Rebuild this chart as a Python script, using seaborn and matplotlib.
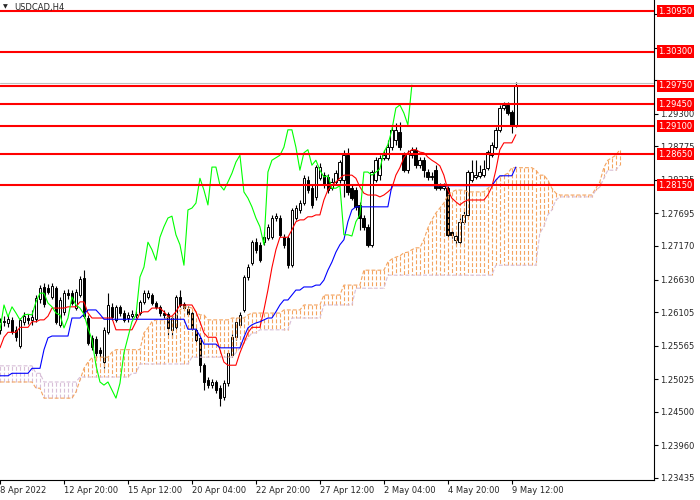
import numpy as np
import pandas as pd
import matplotlib
matplotlib.use("Agg")
import matplotlib.pyplot as plt
import seaborn as sns

sns.set_style("white")
plt.rcParams['font.family'] = ['DejaVu Sans']

symbol = "USDCAD,H4"

# H4 candles, one per bar
opens = [
    1.2582, 1.2595, 1.2593, 1.2598, 1.2582, 1.2556, 1.2595, 1.2601, 1.2598, 1.2599,
    1.2632, 1.2651, 1.2649, 1.2635, 1.2649, 1.2590, 1.2611, 1.2641, 1.2641, 1.2617,
    1.2638, 1.2665, 1.2601, 1.2569, 1.2567, 1.2550, 1.2530, 1.2578, 1.2619, 1.2598,
    1.2619, 1.2609, 1.2601, 1.2604, 1.2607, 1.2609, 1.2627, 1.2635, 1.2638, 1.2625,
    1.2619, 1.2609, 1.2607, 1.2582, 1.2586, 1.2635, 1.2624, 1.2616, 1.2609, 1.2582,
    1.2569, 1.2525, 1.2501, 1.2493, 1.2498, 1.2488, 1.2474, 1.2496, 1.2542, 1.2570,
    1.2590, 1.2614, 1.2667, 1.2690, 1.2723, 1.2719, 1.2723, 1.2730, 1.2731, 1.2762,
    1.2762, 1.2731, 1.2730, 1.2686, 1.2762, 1.2775, 1.2786, 1.2823, 1.2810, 1.2796,
    1.2826, 1.2831, 1.2828, 1.2810, 1.2820, 1.2823, 1.2823, 1.2863, 1.2810, 1.2807,
    1.2783, 1.2762, 1.2748, 1.2719, 1.2823, 1.2831, 1.2859, 1.2859, 1.2876, 1.2888,
    1.2900, 1.2863, 1.2839, 1.2863, 1.2872, 1.2847, 1.2855, 1.2836, 1.2828, 1.2839,
    1.2814, 1.2810, 1.2810, 1.2739, 1.2727, 1.2723, 1.2756, 1.2767, 1.2823, 1.2828,
    1.2830, 1.2831, 1.2843, 1.2863, 1.2876, 1.2904, 1.2939, 1.2944, 1.2933, 1.2912,
]
highs = [
    1.2601, 1.2604, 1.2606, 1.2603, 1.2588, 1.2601, 1.2611, 1.2607, 1.2614, 1.2638,
    1.2654, 1.2657, 1.2656, 1.2657, 1.2653, 1.2635, 1.2646, 1.2648, 1.2646, 1.2648,
    1.2669, 1.2678, 1.2606, 1.2574, 1.2572, 1.2554, 1.2586, 1.2641, 1.2625, 1.2622,
    1.2622, 1.2614, 1.2611, 1.2614, 1.2612, 1.2630, 1.2646, 1.2646, 1.2641, 1.2628,
    1.2622, 1.2614, 1.2611, 1.2604, 1.2638, 1.2646, 1.2627, 1.2620, 1.2612, 1.2585,
    1.2572, 1.2529, 1.2506, 1.2503, 1.2501, 1.2493, 1.2501, 1.2550, 1.2575, 1.2601,
    1.2611, 1.2670, 1.2688, 1.2727, 1.2730, 1.2723, 1.2739, 1.2752, 1.2767, 1.2770,
    1.2767, 1.2736, 1.2733, 1.2778, 1.2783, 1.2791, 1.2831, 1.2830, 1.2815, 1.2847,
    1.2851, 1.2836, 1.2833, 1.2826, 1.2839, 1.2855, 1.2872, 1.2875, 1.2815, 1.2812,
    1.2788, 1.2767, 1.2752, 1.2839, 1.2860, 1.2863, 1.2872, 1.2888, 1.2912, 1.2915,
    1.2917, 1.2868, 1.2872, 1.2876, 1.2876, 1.2860, 1.2860, 1.2841, 1.2836, 1.2847,
    1.2818, 1.2818, 1.2814, 1.2746, 1.2739, 1.2762, 1.2775, 1.2839, 1.2855, 1.2855,
    1.2847, 1.2855, 1.2872, 1.2884, 1.2909, 1.2944, 1.2949, 1.2949, 1.2936, 1.2981,
]
lows = [
    1.2575, 1.2588, 1.2586, 1.2575, 1.2564, 1.2553, 1.2590, 1.2591, 1.2590, 1.2595,
    1.2625, 1.2619, 1.2640, 1.2632, 1.2591, 1.2586, 1.2606, 1.2632, 1.2622, 1.2614,
    1.2635, 1.2601, 1.2558, 1.2550, 1.2540, 1.2538, 1.2520, 1.2575, 1.2598, 1.2595,
    1.2604, 1.2595, 1.2595, 1.2601, 1.2601, 1.2606, 1.2624, 1.2632, 1.2622, 1.2616,
    1.2604, 1.2601, 1.2574, 1.2569, 1.2583, 1.2619, 1.2614, 1.2604, 1.2582, 1.2562,
    1.2514, 1.2485, 1.2488, 1.2488, 1.2480, 1.2459, 1.2469, 1.2492, 1.2538, 1.2566,
    1.2586, 1.2611, 1.2662, 1.2686, 1.2706, 1.2691, 1.2719, 1.2727, 1.2728, 1.2757,
    1.2731, 1.2714, 1.2682, 1.2683, 1.2759, 1.2770, 1.2783, 1.2802, 1.2778, 1.2791,
    1.2823, 1.2810, 1.2802, 1.2807, 1.2815, 1.2818, 1.2796, 1.2799, 1.2791, 1.2775,
    1.2743, 1.2743, 1.2715, 1.2715, 1.2820, 1.2823, 1.2855, 1.2855, 1.2872, 1.2880,
    1.2872, 1.2836, 1.2834, 1.2859, 1.2843, 1.2843, 1.2828, 1.2823, 1.2823, 1.2807,
    1.2807, 1.2807, 1.2731, 1.2730, 1.2719, 1.2720, 1.2752, 1.2764, 1.2820, 1.2825,
    1.2826, 1.2828, 1.2839, 1.2860, 1.2873, 1.2900, 1.2936, 1.2928, 1.2899, 1.2909,
]
closes = [
    1.2595, 1.2596, 1.2599, 1.2578, 1.2570, 1.2598, 1.2604, 1.2598, 1.2603, 1.2633,
    1.2649, 1.2624, 1.2643, 1.2653, 1.2595, 1.2630, 1.2641, 1.2638, 1.2625, 1.2643,
    1.2664, 1.2604, 1.2561, 1.2554, 1.2545, 1.2545, 1.2582, 1.2622, 1.2603, 1.2619,
    1.2609, 1.2598, 1.2606, 1.2607, 1.2606, 1.2627, 1.2641, 1.2641, 1.2625, 1.2619,
    1.2609, 1.2606, 1.2585, 1.2601, 1.2635, 1.2622, 1.2617, 1.2607, 1.2585, 1.2566,
    1.2525, 1.2498, 1.2493, 1.2498, 1.2485, 1.2472, 1.2496, 1.2545, 1.2570, 1.2595,
    1.2606, 1.2667, 1.2683, 1.2723, 1.2711, 1.2694, 1.2731, 1.2748, 1.2762, 1.2765,
    1.2735, 1.2719, 1.2686, 1.2775, 1.2778, 1.2786, 1.2826, 1.2807, 1.2783, 1.2844,
    1.2844, 1.2815, 1.2807, 1.2820, 1.2834, 1.2852, 1.2863, 1.2804, 1.2794, 1.2780,
    1.2762, 1.2748, 1.2719, 1.2836, 1.2855, 1.2859, 1.2863, 1.2876, 1.2904, 1.2904,
    1.2876, 1.2839, 1.2867, 1.2872, 1.2847, 1.2855, 1.2839, 1.2828, 1.2830, 1.2810,
    1.2810, 1.2814, 1.2735, 1.2735, 1.2733, 1.2756, 1.2767, 1.2836, 1.2836, 1.2831,
    1.2836, 1.2841, 1.2868, 1.2880, 1.2904, 1.2939, 1.2944, 1.2931, 1.2912, 1.2976,
]

# Ichimoku lines as drawn on the chart
tenkan = [
    1.2553, 1.2570, 1.2578, 1.2578, 1.2578, 1.2586, 1.2586, 1.2586, 1.2595, 1.2595,
    1.2598, 1.2598, 1.2604, 1.2617, 1.2617, 1.2617, 1.2617, 1.2619, 1.2619, 1.2619,
    1.2627, 1.2627, 1.2609, 1.2601, 1.2601, 1.2601, 1.2601, 1.2601, 1.2601, 1.2582,
    1.2582, 1.2582, 1.2582, 1.2582, 1.2595, 1.2609, 1.2611, 1.2611, 1.2617, 1.2617,
    1.2617, 1.2611, 1.2604, 1.2604, 1.2611, 1.2622, 1.2622, 1.2622, 1.2622, 1.2611,
    1.2595, 1.2577, 1.2570, 1.2570, 1.2570, 1.2550, 1.2530, 1.2525, 1.2525, 1.2525,
    1.2545, 1.2561, 1.2577, 1.2586, 1.2586, 1.2586, 1.2614, 1.2646, 1.2682, 1.2711,
    1.2731, 1.2731, 1.2731, 1.2743, 1.2756, 1.2759, 1.2759, 1.2764, 1.2764, 1.2767,
    1.2767, 1.2791, 1.2807, 1.2815, 1.2820, 1.2826, 1.2831, 1.2831, 1.2831, 1.2826,
    1.2812, 1.2802, 1.2799, 1.2799, 1.2799, 1.2796, 1.2799, 1.2804, 1.2810, 1.2831,
    1.2843, 1.2859, 1.2867, 1.2872, 1.2872, 1.2868, 1.2867, 1.2860, 1.2855, 1.2851,
    1.2846, 1.2831, 1.2807, 1.2794, 1.2788, 1.2783, 1.2788, 1.2791, 1.2791, 1.2791,
    1.2791, 1.2791, 1.2799, 1.2812, 1.2839, 1.2872, 1.2883, 1.2883, 1.2883, 1.2896,
]
kijun = [
    1.2508, 1.2508, 1.2508, 1.2512, 1.2512, 1.2512, 1.2512, 1.2512, 1.2520, 1.2520,
    1.2520, 1.2550, 1.2569, 1.2572, 1.2572, 1.2572, 1.2572, 1.2572, 1.2601, 1.2601,
    1.2601, 1.2607, 1.2614, 1.2614, 1.2614, 1.2607, 1.2599, 1.2599, 1.2599, 1.2599,
    1.2599, 1.2599, 1.2599, 1.2599, 1.2599, 1.2599, 1.2599, 1.2599, 1.2599, 1.2599,
    1.2599, 1.2599, 1.2599, 1.2599, 1.2599, 1.2599, 1.2599, 1.2583, 1.2583, 1.2583,
    1.2572, 1.2559, 1.2559, 1.2559, 1.2559, 1.2553, 1.2553, 1.2553, 1.2553, 1.2553,
    1.2553, 1.2570, 1.2585, 1.2590, 1.2593, 1.2595, 1.2598, 1.2601, 1.2601, 1.2611,
    1.2622, 1.2630, 1.2630, 1.2638, 1.2646, 1.2646, 1.2651, 1.2651, 1.2651, 1.2654,
    1.2654, 1.2662, 1.2678, 1.2691, 1.2707, 1.2719, 1.2727, 1.2756, 1.2775, 1.2780,
    1.2780, 1.2780, 1.2780, 1.2780, 1.2780, 1.2780, 1.2780, 1.2780, 1.2814, 1.2814,
    1.2814, 1.2814, 1.2814, 1.2814, 1.2814, 1.2814, 1.2814, 1.2814, 1.2814, 1.2814,
    1.2814, 1.2814, 1.2814, 1.2814, 1.2814, 1.2814, 1.2814, 1.2814, 1.2814, 1.2814,
    1.2814, 1.2814, 1.2814, 1.2814, 1.2823, 1.2830, 1.2830, 1.2830, 1.2830, 1.2844,
]
# cloud spans run 26 bars past the last candle
senkou_a = [
    1.2498, 1.2498, 1.2498, 1.2498, 1.2498, 1.2498, 1.2498, 1.2498, 1.2498, 1.2488,
    1.2488, 1.2472, 1.2472, 1.2472, 1.2472, 1.2472, 1.2472, 1.2472, 1.2472, 1.2482,
    1.2501, 1.2520, 1.2530, 1.2537, 1.2538, 1.2538, 1.2538, 1.2538, 1.2546, 1.2550,
    1.2550, 1.2550, 1.2550, 1.2550, 1.2550, 1.2550, 1.2577, 1.2585, 1.2595, 1.2598,
    1.2598, 1.2598, 1.2603, 1.2603, 1.2603, 1.2614, 1.2619, 1.2619, 1.2617, 1.2611,
    1.2606, 1.2606, 1.2598, 1.2598, 1.2598, 1.2598, 1.2598, 1.2598, 1.2601, 1.2601,
    1.2601, 1.2601, 1.2606, 1.2609, 1.2609, 1.2609, 1.2609, 1.2609, 1.2609, 1.2609,
    1.2609, 1.2614, 1.2614, 1.2614, 1.2614, 1.2614, 1.2622, 1.2622, 1.2622, 1.2622,
    1.2622, 1.2638, 1.2638, 1.2638, 1.2638, 1.2638, 1.2654, 1.2654, 1.2654, 1.2654,
    1.2654, 1.2678, 1.2678, 1.2678, 1.2678, 1.2678, 1.2678, 1.2691, 1.2696, 1.2699,
    1.2701, 1.2706, 1.2707, 1.2711, 1.2714, 1.2714, 1.2727, 1.2746, 1.2759, 1.2770,
    1.2778, 1.2786, 1.2799, 1.2804, 1.2807, 1.2807, 1.2807, 1.2804, 1.2804, 1.2804,
    1.2804, 1.2804, 1.2810, 1.2815, 1.2823, 1.2828, 1.2831, 1.2834, 1.2843, 1.2843,
    1.2843, 1.2843, 1.2843, 1.2843, 1.2839, 1.2831, 1.2831, 1.2823, 1.2810, 1.2802,
    1.2799, 1.2799, 1.2799, 1.2799, 1.2799, 1.2799, 1.2799, 1.2799, 1.2799, 1.2810,
    1.2820, 1.2843, 1.2855, 1.2859, 1.2863, 1.2872,
]
senkou_b = [
    1.2524, 1.2524, 1.2524, 1.2524, 1.2524, 1.2524, 1.2524, 1.2524, 1.2524, 1.2512,
    1.2512, 1.2498, 1.2498, 1.2498, 1.2498, 1.2498, 1.2498, 1.2498, 1.2498, 1.2498,
    1.2506, 1.2506, 1.2506, 1.2506, 1.2506, 1.2506, 1.2506, 1.2506, 1.2506, 1.2506,
    1.2506, 1.2506, 1.2506, 1.2512, 1.2512, 1.2527, 1.2527, 1.2527, 1.2527, 1.2527,
    1.2527, 1.2527, 1.2527, 1.2527, 1.2527, 1.2527, 1.2527, 1.2527, 1.2538, 1.2538,
    1.2538, 1.2538, 1.2538, 1.2538, 1.2538, 1.2538, 1.2538, 1.2538, 1.2538, 1.2545,
    1.2553, 1.2561, 1.2569, 1.2577, 1.2577, 1.2582, 1.2582, 1.2582, 1.2582, 1.2582,
    1.2582, 1.2582, 1.2582, 1.2601, 1.2601, 1.2601, 1.2601, 1.2601, 1.2601, 1.2601,
    1.2601, 1.2622, 1.2622, 1.2622, 1.2622, 1.2622, 1.2622, 1.2622, 1.2622, 1.2649,
    1.2649, 1.2649, 1.2649, 1.2649, 1.2649, 1.2649, 1.2649, 1.2670, 1.2670, 1.2670,
    1.2670, 1.2670, 1.2670, 1.2670, 1.2670, 1.2670, 1.2670, 1.2670, 1.2670, 1.2670,
    1.2670, 1.2670, 1.2670, 1.2670, 1.2670, 1.2670, 1.2670, 1.2670, 1.2670, 1.2670,
    1.2670, 1.2670, 1.2670, 1.2670, 1.2686, 1.2686, 1.2686, 1.2686, 1.2686, 1.2686,
    1.2686, 1.2686, 1.2686, 1.2686, 1.2686, 1.2738, 1.2748, 1.2767, 1.2775, 1.2791,
    1.2796, 1.2796, 1.2796, 1.2796, 1.2796, 1.2796, 1.2796, 1.2796, 1.2796, 1.2807,
    1.2812, 1.2826, 1.2839, 1.2839, 1.2839, 1.2847,
]
chikou_shift = 26

# horizontal levels drawn on the chart
levels = [1.30950, 1.30300, 1.29750, 1.29450, 1.29100, 1.28650, 1.28150]
level_labels = ["1.30950", "1.30300", "1.29750", "1.29450", "1.29100", "1.28650", "1.28150"]
ask_price = 1.2979

# price scale; the top three labels sit fully behind the level tags
price_ticks = [1.23435, 1.23960, 1.24500, 1.25025, 1.25565, 1.26105, 1.26630,
               1.27170, 1.27695, 1.28235, 1.28775, 1.29300, 1.29840, 1.30365, 1.30905]
price_labels = ["1.23435", "1.23960", "1.24500", "1.25025", "1.25565", "1.26105", "1.26630",
                "1.27170", "1.27695", "1.28235", "1.28775", "1.29300", "", "", ""]
date_ticks = [0, 16, 32, 48, 64, 80, 96, 112, 128]
date_labels = ["8 Apr 2022", "12 Apr 20:00", "15 Apr 12:00", "20 Apr 04:00", "22 Apr 20:00",
               "27 Apr 12:00", "2 May 04:00", "4 May 20:00", "9 May 12:00"]

df = pd.DataFrame({'open': opens, 'high': highs, 'low': lows, 'close': closes,
                   'tenkan': tenkan, 'kijun': kijun})
df['bar'] = np.arange(len(df))
cloud = pd.DataFrame({'a': senkou_a, 'b': senkou_b})
cloud['bar'] = np.arange(len(cloud))
chikou = pd.DataFrame({'chikou': closes[chikou_shift:]})
chikou['bar'] = np.arange(len(chikou))

fig = plt.figure(figsize=(7, 5), dpi=100)
ax = fig.add_axes([0, 0.04, 0.934, 0.96])

# candles
up = df['close'] >= df['open']
ax.vlines(df['bar'], df['low'], df['high'], colors='black', lw=0.8, zorder=2)
body_lo = np.minimum(df['open'], df['close'])
body_h = np.maximum((df['close'] - df['open']).abs(), 0.00004)
ax.bar(df['bar'], body_h, bottom=body_lo, width=0.7,
       color=np.where(up, 'white', 'black'), edgecolor='black', linewidth=0.7, zorder=3)

# kumo hatch
bull = cloud['a'] >= cloud['b']
for mask, col in [(bull, '#F4A460'), (~bull, '#D8BFD8')]:
    sub = cloud[mask]
    ax.vlines(sub['bar'], sub['a'], sub['b'], colors=col, lw=0.8,
              linestyles=[(0, (3.5, 1.8))], zorder=4)
sns.lineplot(data=cloud, x='bar', y='a', color='#F4A460', lw=0.8,
             linestyle=(0, (3.5, 1.8)), legend=False, ax=ax, zorder=4)
sns.lineplot(data=cloud, x='bar', y='b', color='#D8BFD8', lw=0.8,
             linestyle=(0, (3.5, 1.8)), legend=False, ax=ax, zorder=4)

# tenkan, kijun, chikou
sns.lineplot(data=df, x='bar', y='tenkan', color='#FF0000', lw=0.8, legend=False, ax=ax, zorder=5)
sns.lineplot(data=df, x='bar', y='kijun', color='#0000FF', lw=0.8, legend=False, ax=ax, zorder=5)
sns.lineplot(data=chikou, x='bar', y='chikou', color='#00FF00', lw=0.8, legend=False, ax=ax, zorder=5)

ax.axhline(ask_price, color='#C0C0C0', lw=0.8, zorder=5.5)
for lv in levels:
    ax.axhline(lv, color='#FF0000', lw=1.5, zorder=6)

ax.set_xlim(0, 163.5)
ax.set_ylim(1.23402, 1.3113)

ax.yaxis.tick_right()
ax.set_yticks(price_ticks)
ax.set_yticklabels(price_labels)
ax.set_xticks(date_ticks)
ax.set_xticklabels(date_labels)
for lab in ax.get_xticklabels():
    lab.set_ha('left')
ax.tick_params(axis='both', labelsize=6, length=3, width=0.8, color='black', direction='out',
               pad=1.5, left=False, bottom=True, right=True)
ax.set_xlabel('')
ax.set_ylabel('')
for side in ['left', 'top']:
    ax.spines[side].set_visible(False)
for side in ['right', 'bottom']:
    ax.spines[side].set_color('black')
    ax.spines[side].set_linewidth(0.8)

# level price tags on the price scale
for lv, lab in zip(levels, level_labels):
    ax.annotate(lab, xy=(1, lv), xycoords=('axes fraction', 'data'), xytext=(3.3, 0),
                textcoords='offset points', ha='left', va='center', color='white', fontsize=6,
                bbox=dict(boxstyle='square,pad=0.2', fc='#FF0000', ec='none'),
                annotation_clip=False, zorder=10)

ax.text(0.004, 0.985, '\u25bc', transform=ax.transAxes, fontsize=4.5, va='center', ha='left', zorder=11)
ax.text(0.022, 0.985, symbol, transform=ax.transAxes, fontsize=6, va='center', ha='left', zorder=11)

fig.savefig('out.png', dpi=100)
